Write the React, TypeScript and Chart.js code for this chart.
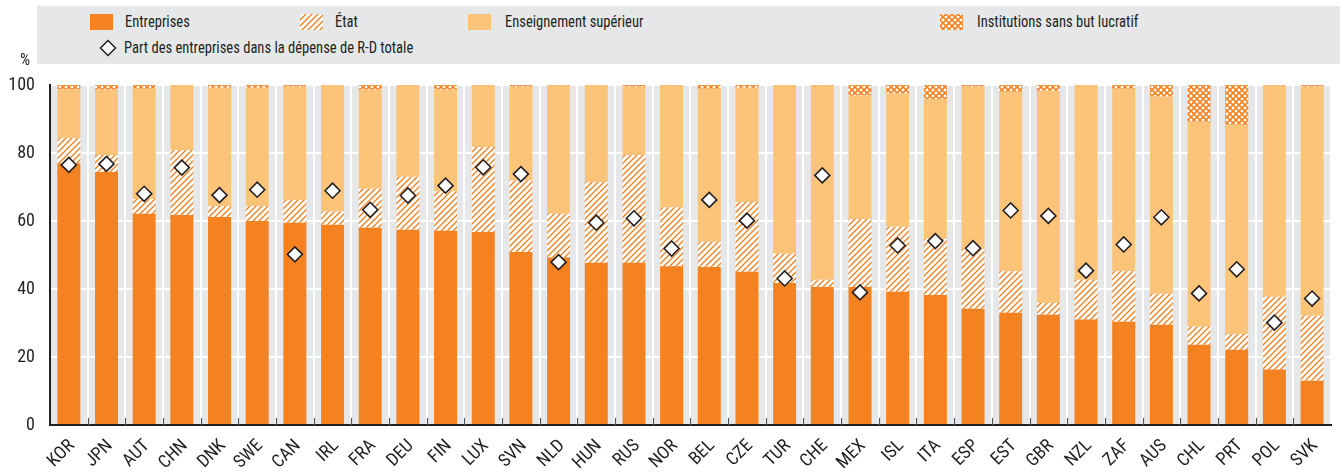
import React, { useEffect, useRef, useState } from "react";
import { Chart, registerables } from "chart.js";

Chart.register(...registerables);

const categories = [
  "KOR", "JPN", "AUT", "CHN", "DNK", "SWE", "CAN", "IRL", "FRA", "DEU", "FIN", "LUX",
  "SVN", "NLD", "HUN", "RUS", "NOR", "BEL", "CZE", "TUR", "CHE", "MEX", "ISL", "ITA",
  "ESP", "EST", "GBR", "NZL", "ZAF", "AUS", "CHL", "PRT", "POL", "SVK",
];

const entreprises = [
  77.0, 74.4, 62.1, 61.8, 61.2, 60.0, 59.5, 58.9, 58.0, 57.4, 57.1, 56.8,
  50.9, 49.3, 47.7, 47.7, 46.7, 46.5, 45.1, 41.8, 40.6, 40.6, 39.2, 38.2,
  34.2, 33.0, 32.4, 31.0, 30.4, 29.5, 23.6, 22.1, 16.3, 13.0,
];

const etat = [
  7.4, 5.0, 4.4, 19.1, 3.2, 4.4, 6.7, 3.9, 11.5, 15.6, 11.6, 25.0,
  21.0, 12.8, 23.8, 31.7, 17.3, 7.4, 20.5, 8.6, 2.1, 20.0, 19.1, 16.6,
  17.6, 12.2, 3.5, 11.7, 14.8, 9.1, 5.3, 4.7, 21.4, 19.1,
];

const enseignementSuperieur = [
  14.3, 19.2, 32.4, 19.1, 34.8, 34.8, 33.3, 37.2, 29.1, 26.8, 29.9, 18.0,
  27.6, 37.7, 28.5, 20.1, 35.8, 45.0, 33.6, 49.6, 57.1, 36.3, 39.2, 41.1,
  47.7, 52.8, 62.4, 57.3, 53.7, 58.0, 60.3, 61.5, 62.1, 67.4,
];

const institutionsSansBut = [
  1.3, 1.4, 1.1, 0, 0.8, 0.8, 0.5, 0, 1.4, 0.2, 1.4, 0.2,
  0.5, 0.2, 0, 0.5, 0.2, 1.1, 0.8, 0, 0.2, 3.1, 2.5, 4.1,
  0.5, 2.0, 1.7, 0, 1.1, 3.4, 10.8, 11.7, 0.2, 0.5,
];

const partEntreprises = [
  76.5, 76.8, 68.0, 75.7, 67.6, 69.2, 50.2, 68.9, 63.3, 67.5, 70.4, 75.8,
  73.8, 47.9, 59.5, 60.8, 51.9, 66.2, 60.1, 43.1, 73.4, 39.0, 52.8, 54.1,
  52.0, 63.1, 61.5, 45.4, 53.1, 61.1, 38.7, 45.8, 30.1, 37.2,
];

const yTicks = [0, 20, 40, 60, 80, 100];

const legendLabels = [
  "Entreprises",
  "État",
  "Enseignement supérieur",
  "Institutions sans but lucratif",
  "Part des entreprises dans la dépense de R-D totale",
];

const ORANGE = "#f58220";
const LIGHT = "#fbc479";
const GREY = "#e6e7e8";
const DARK = "#231f20";
const FONT = "'Roboto Condensed', 'DejaVu Sans Condensed', sans-serif";

function stripeTile(): HTMLCanvasElement {
  const c = document.createElement("canvas");
  c.width = 6;
  c.height = 6;
  const g = c.getContext("2d")!;
  g.fillStyle = "#ffffff";
  g.fillRect(0, 0, 6, 6);
  g.strokeStyle = ORANGE;
  g.lineWidth = 1.4;
  g.beginPath();
  g.moveTo(-1, 7);
  g.lineTo(7, -1);
  g.moveTo(-1, 1);
  g.lineTo(1, -1);
  g.moveTo(5, 7);
  g.lineTo(7, 5);
  g.stroke();
  return c;
}

function crossTile(): HTMLCanvasElement {
  const c = document.createElement("canvas");
  c.width = 6;
  c.height = 6;
  const g = c.getContext("2d")!;
  g.fillStyle = "#ffffff";
  g.fillRect(0, 0, 6, 6);
  g.strokeStyle = ORANGE;
  g.lineWidth = 1.6;
  g.beginPath();
  g.moveTo(-1, -1);
  g.lineTo(7, 7);
  g.moveTo(-1, 7);
  g.lineTo(7, -1);
  g.stroke();
  return c;
}

type LabelPos = { text: string; x: number; y: number };

export default function App() {
  const canvasRef = useRef<HTMLCanvasElement>(null);
  const swEtat = useRef<HTMLCanvasElement>(null);
  const swInst = useRef<HTMLCanvasElement>(null);
  const swDiamond = useRef<HTMLCanvasElement>(null);
  const [xLabels, setXLabels] = useState<LabelPos[]>([]);

  useEffect(() => {
    const canvas = canvasRef.current!;
    const ctx = canvas.getContext("2d")!;
    const stripe = ctx.createPattern(stripeTile(), "repeat")!;
    const cross = ctx.createPattern(crossTile(), "repeat")!;

    const se = swEtat.current!.getContext("2d")!;
    se.fillStyle = se.createPattern(stripeTile(), "repeat")!;
    se.fillRect(0, 0, 23, 16);
    const si = swInst.current!.getContext("2d")!;
    si.fillStyle = si.createPattern(crossTile(), "repeat")!;
    si.fillRect(0, 0, 23, 16);
    const sd = swDiamond.current!.getContext("2d")!;
    sd.clearRect(0, 0, 18, 18);
    sd.beginPath();
    sd.moveTo(9, 1.5);
    sd.lineTo(16.5, 9);
    sd.lineTo(9, 16.5);
    sd.lineTo(1.5, 9);
    sd.closePath();
    sd.fillStyle = "#fff";
    sd.fill();
    sd.strokeStyle = DARK;
    sd.lineWidth = 1.5;
    sd.stroke();

    const plotPlugin = {
      id: "plotDecor",
      beforeDraw(chart: any) {
        const { ctx: c, chartArea: a } = chart;
        c.save();
        c.fillStyle = GREY;
        c.fillRect(a.left, a.top, a.right - a.left, a.bottom - a.top);
        c.restore();
      },
      afterDraw(chart: any) {
        const { ctx: c, chartArea: a } = chart;
        const xs = chart.scales.x;
        c.save();
        c.strokeStyle = "#555555";
        c.lineWidth = 1.2;
        for (let i = 1; i < categories.length; i++) {
          const px = Math.round((xs.getPixelForValue(i - 1) + xs.getPixelForValue(i)) / 2) + 0.5;
          c.beginPath();
          c.moveTo(px, a.bottom - 7);
          c.lineTo(px, a.bottom);
          c.stroke();
        }
        c.restore();
      },
    };

    const barCommon = {
      type: "bar" as const,
      stack: "s",
      order: 1,
      barPercentage: 0.61,
      categoryPercentage: 1,
      borderWidth: 0,
    };

    const chart = new Chart(ctx, {
      type: "bar",
      data: {
        labels: categories,
        datasets: [
          {
            type: "line",
            label: legendLabels[4],
            data: partEntreprises,
            showLine: false,
            pointStyle: "rectRot",
            pointRadius: 7.5,
            pointBackgroundColor: "#ffffff",
            pointBorderColor: DARK,
            pointBorderWidth: 1.6,
            order: 0,
            stack: "d",
          } as any,
          { ...barCommon, label: legendLabels[0], data: entreprises, backgroundColor: ORANGE },
          { ...barCommon, label: legendLabels[1], data: etat, backgroundColor: stripe },
          { ...barCommon, label: legendLabels[2], data: enseignementSuperieur, backgroundColor: LIGHT },
          { ...barCommon, label: legendLabels[3], data: institutionsSansBut, backgroundColor: cross },
        ],
      },
      options: {
        responsive: false,
        animation: false,
        layout: { padding: { top: 85, right: 4, left: 0, bottom: 0 } },
        plugins: { legend: { display: false }, tooltip: { enabled: false } },
        scales: {
          x: {
            stacked: true,
            offset: true,
            afterFit(scale: any) {
              scale.height = 49;
            },
            grid: { offset: true, color: "#ffffff", lineWidth: 2, drawTicks: false },
            border: { display: true, color: DARK, width: 2 },
            ticks: { display: false, autoSkip: false },
          },
          y: {
            stacked: true,
            min: 0,
            max: 100,
            afterFit(scale: any) {
              scale.width = 50;
            },
            afterBuildTicks(scale: any) {
              scale.ticks = yTicks.map((v) => ({ value: v }));
            },
            grid: { color: "#ffffff", lineWidth: 2, drawTicks: false },
            border: { display: true, color: DARK, width: 2 },
            ticks: {
              padding: 15,
              color: DARK,
              font: { family: FONT, size: 18 },
            },
          },
        },
      },
      plugins: [plotPlugin],
    });

    const xs: any = chart.scales.x;
    const bottom = chart.chartArea.bottom;
    setXLabels(
      (chart.data.labels as string[]).map((t, i) => ({ text: t, x: xs.getPixelForValue(i), y: bottom + 17 }))
    );
    return () => chart.destroy();
  }, []);

  const textStyle: React.CSSProperties = {
    position: "absolute",
    fontFamily: FONT,
    fontSize: 16,
    color: DARK,
    lineHeight: "16px",
    whiteSpace: "nowrap",
    transform: "scaleX(0.91)",
    transformOrigin: "0 50%",
  };

  const LW = 60;

  return (
    <div style={{ position: "absolute", left: 0, top: 0, width: 1340, height: 474, background: "#fff", overflow: "hidden" }}>
      <canvas ref={canvasRef} width={1340} height={474} style={{ position: "absolute", left: 0, top: 0 }} />
      <div style={{ position: "absolute", left: 37, top: 6, width: 1303, height: 58, background: GREY }}>
        <div style={{ position: "absolute", left: 53, top: 8, width: 23, height: 16, background: ORANGE }} />
        <div style={{ ...textStyle, left: 88, top: 8 }}>{legendLabels[0]}</div>
        <canvas ref={swEtat} width={23} height={16} style={{ position: "absolute", left: 263, top: 8 }} />
        <div style={{ ...textStyle, left: 298, top: 8 }}>{legendLabels[1]}</div>
        <div style={{ position: "absolute", left: 431, top: 8, width: 23, height: 16, background: LIGHT }} />
        <div style={{ ...textStyle, left: 468, top: 8 }}>{legendLabels[2]}</div>
        <canvas ref={swInst} width={23} height={16} style={{ position: "absolute", left: 903, top: 8 }} />
        <div style={{ ...textStyle, left: 940, top: 8 }}>{legendLabels[3]}</div>
        <canvas ref={swDiamond} width={18} height={18} style={{ position: "absolute", left: 62, top: 33 }} />
        <div style={{ ...textStyle, left: 87, top: 34 }}>{legendLabels[4]}</div>
      </div>
      <div style={{ ...textStyle, transform: "none", left: 20, top: 52 }}>%</div>
      {xLabels.map((l) => (
        <div
          key={l.text}
          style={{
            position: "absolute",
            left: l.x + 2 - LW,
            top: l.y - 9,
            width: LW,
            height: 18,
            lineHeight: "18px",
            textAlign: "right",
            fontFamily: FONT,
            fontSize: 18,
            color: DARK,
            whiteSpace: "nowrap",
            transformOrigin: "100% 50%",
            transform: "rotate(-45deg)",
          }}
        >
          {l.text}
        </div>
      ))}
    </div>
  );
}
